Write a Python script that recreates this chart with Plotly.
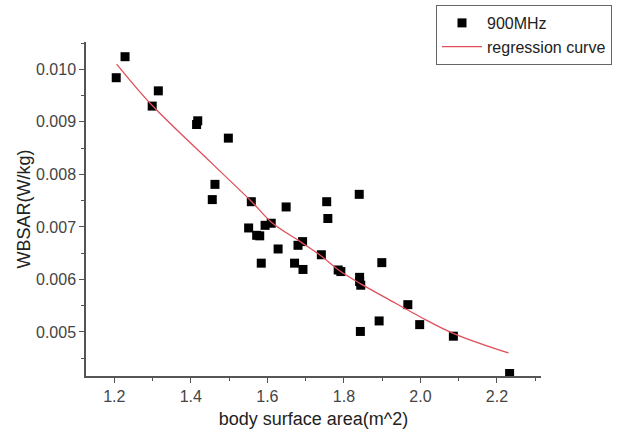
import plotly.graph_objects as go

# Measured data: body surface area (m^2) vs WBSAR (W/kg) at 900 MHz
bsa = [1.205, 1.228, 1.315, 1.299, 1.418, 1.415, 1.498, 1.463, 1.456, 1.558,
       1.649, 1.755, 1.758, 1.840, 1.551, 1.572, 1.580, 1.594, 1.610, 1.628,
       1.584, 1.671, 1.692, 1.680, 1.693, 1.741, 1.785, 1.792, 1.841, 1.841,
       1.844, 1.899, 1.967, 1.892, 1.843, 1.998, 2.086, 2.233]
wbsar = [0.00984, 0.01024, 0.00959, 0.00930, 0.00902, 0.00895, 0.00869, 0.00781, 0.00752, 0.00748,
         0.00738, 0.00748, 0.00716, 0.00762, 0.00698, 0.00684, 0.00683, 0.00703, 0.00707, 0.00658,
         0.00631, 0.00631, 0.00672, 0.00665, 0.00619, 0.00647, 0.00618, 0.00615, 0.00604, 0.00596,
         0.00589, 0.00632, 0.00552, 0.00521, 0.00501, 0.00514, 0.00492, 0.00421]

# Regression curve
curve_x = [1.206, 1.298, 1.455, 1.559, 1.612, 1.686, 1.738, 1.786, 1.843, 1.912, 1.999, 2.087, 2.230]
curve_y = [0.01010, 0.00932, 0.00821, 0.00748, 0.00708, 0.00672, 0.00646, 0.00618, 0.00592, 0.00564,
           0.00529, 0.00497, 0.00460]

x_ticks = [1.2, 1.4, 1.6, 1.8, 2.0, 2.2]
y_ticks = [0.005, 0.006, 0.007, 0.008, 0.009, 0.010]

fig = go.Figure()
fig.add_trace(go.Scatter(
    x=bsa, y=wbsar, mode="markers", name="900MHz",
    marker=dict(symbol="square", size=9, color="black"),
))
fig.add_trace(go.Scatter(
    x=curve_x, y=curve_y, mode="lines", name="regression curve",
    line=dict(color="#e0505a", width=1.3, shape="spline"),
))

axis_color = "#555555"
font_family = "Liberation Sans, Arial, sans-serif"

fig.update_layout(
    width=632, height=434,
    margin=dict(l=86, r=91, t=42, b=58, autoexpand=False),
    paper_bgcolor="white", plot_bgcolor="white",
    font=dict(family=font_family, color="#333333", size=16),
    showlegend=True,
    legend=dict(
        xref="container", yref="container",
        x=436 / 632, y=1 - 5 / 434, xanchor="left", yanchor="top",
        bordercolor="#666666", borderwidth=1, bgcolor="white",
        font=dict(size=16, color="#222222"),
        tracegroupgap=0, itemwidth=40,
    ),
    xaxis=dict(
        range=[1.126, 2.315], tickvals=x_ticks, tickformat=".1f",
        showline=True, linecolor=axis_color, linewidth=1.5,
        ticks="outside", ticklen=5, tickwidth=1.3, tickcolor=axis_color,
        minor=dict(ticks="outside", ticklen=3, dtick=0.1, tick0=1.1, tickcolor=axis_color, tickwidth=1.3),
        showgrid=False, zeroline=False, automargin=False,
        tickfont=dict(size=16, color="#444444"),
        title=dict(text="body surface area(m^2)", font=dict(size=18, color="#222222"), standoff=8),
    ),
    yaxis=dict(
        range=[0.004162, 0.01052], tickvals=y_ticks, tickformat=".3f",
        showline=True, linecolor=axis_color, linewidth=1.5,
        ticks="outside", ticklen=5, tickwidth=1.3, tickcolor=axis_color,
        minor=dict(ticks="outside", ticklen=3, dtick=0.0005, tick0=0.0045, tickcolor=axis_color, tickwidth=1.3),
        showgrid=False, zeroline=False, automargin=False,
        tickfont=dict(size=16, color="#444444"),
        title=dict(text="WBSAR(W/kg)", font=dict(size=18, color="#222222"), standoff=1),
    ),
)

fig.write_html("out.html", config={"displayModeBar": False},
               post_script="document.body.style.margin='0px';")
